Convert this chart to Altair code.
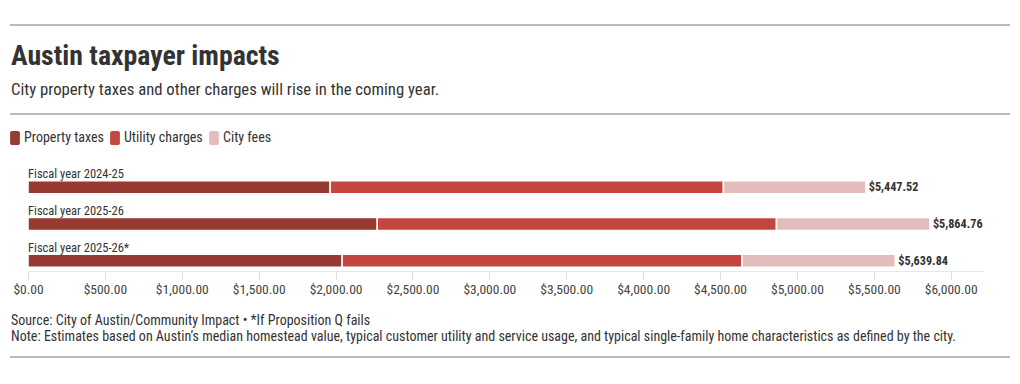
import altair as alt
import pandas as pd

years = ["Fiscal year 2024-25", "Fiscal year 2025-26", "Fiscal year 2025-26*"]
property_taxes = [1965.0, 2271.0, 2043.0]
utility_charges = [2557.0, 2596.0, 2600.0]
city_fees = [925.52, 997.76, 996.84]
totals = [5447.52, 5864.76, 5639.84]
total_labels = ["$5,447.52", "$5,864.76", "$5,639.84"]
categories = ["Property taxes", "Utility charges", "City fees"]
colors = ["#973a32", "#c4473f", "#e3bdbb"]

rows = []
for i, y in enumerate(years):
    for k, (cat, vals) in enumerate(zip(categories, [property_taxes, utility_charges, city_fees])):
        rows.append({"year": y, "category": cat, "value": vals[i], "order": k})
df = pd.DataFrame(rows)
tot = pd.DataFrame({"year": years, "total": totals, "label": total_labels})

FONT = "Roboto Condensed, Liberation Sans Narrow, Roboto, sans-serif"
W, H = 955, 110
ysc = alt.Scale(domain=years, paddingInner=0, paddingOuter=0)
xsc = alt.Scale(domain=[0, 6210], nice=False, zero=True)
roundrect = "M-0.4,-1H0.4A0.3,0.3 0 0 1 0.7,-0.7V0.7A0.3,0.3 0 0 1 0.4,1H-0.4A0.3,0.3 0 0 1 -0.7,0.7V-0.7A0.3,0.3 0 0 1 -0.4,-1Z"

bars = alt.Chart(df).mark_bar(size=13, yOffset=8, stroke="white", strokeWidth=1.5).encode(
    x=alt.X("sum(value):Q", scale=xsc, stack="zero",
            axis=alt.Axis(title=None, format="$,.2f", values=[0, 500, 1000, 1500, 2000, 2500, 3000, 3500, 4000, 4500, 5000, 5500, 6000],
                          grid=False, domainColor="#e6e6e6", tickColor="#dddddd", tickSize=8, labelFlush=False,
                          labelFont=FONT, labelFontSize=13.5, labelColor="#444444", labelPadding=3)),
    y=alt.Y("year:N", scale=ysc, axis=None, sort=years),
    color=alt.Color("category:N", scale=alt.Scale(domain=categories, range=colors),
                    legend=alt.Legend(title=None, orient="none", legendX=-20, legendY=-30, direction="horizontal",
                                      symbolType=roundrect, symbolSize=196, symbolStrokeWidth=0, symbolOpacity=1,
                                      labelFont=FONT, labelFontSize=14, labelColor="#333333",
                                      columnPadding=4, labelOffset=2)),
    order=alt.Order("order:Q"),
)

year_labels = alt.Chart(tot).mark_text(align="left", baseline="alphabetic", dy=-1, font=FONT, fontSize=12.5, color="#333333").encode(
    x=alt.value(0), y=alt.Y("year:N", scale=ysc, sort=years), text="year:N")

total_text = alt.Chart(tot).mark_text(align="left", baseline="middle", dx=3, yOffset=8, font=FONT, fontSize=12.2, fontWeight="bold", color="#333333").encode(
    x=alt.X("total:Q", scale=xsc), y=alt.Y("year:N", scale=ysc, sort=years), text="label:N")

def rule(yv):
    return alt.Chart(pd.DataFrame({"a": [0]})).mark_rule(color="#777777", strokeWidth=1).encode(
        x=alt.value(-18), x2=alt.value(982), y=alt.value(yv))

def txt(s, yv, size, weight="normal", color="#333333"):
    return alt.Chart(pd.DataFrame({"t": [s]})).mark_text(align="left", baseline="alphabetic", font=FONT, fontSize=size,
                                                       fontWeight=weight, color=color).encode(
        x=alt.value(-17), y=alt.value(yv), text="t:N")

chart = alt.layer(
    rule(-136), rule(-47), rule(196),
    txt("Austin taxpayer impacts", -96, 27.8, "bold", "#333333"),
    txt("City property taxes and other charges will rise in the coming year.", -66, 16.7),
    bars, year_labels, total_text,
    txt("Source: City of Austin/Community Impact \u2022 *If Proposition Q fails", 164, 14),
    txt("Note: Estimates based on Austin\u2019s median homestead value, typical customer utility and service usage, and typical single-family home characteristics as defined by the city.", 180, 14),
).properties(
    width=W, height=H, padding={"left": 20, "top": 153, "right": 29, "bottom": 105},
    autosize=alt.AutoSizeParams(type="none"),
).configure(font=FONT).configure_view(stroke="transparent", strokeWidth=0)

chart.save("out.html", embed_options={"renderer": "svg", "actions": False})
